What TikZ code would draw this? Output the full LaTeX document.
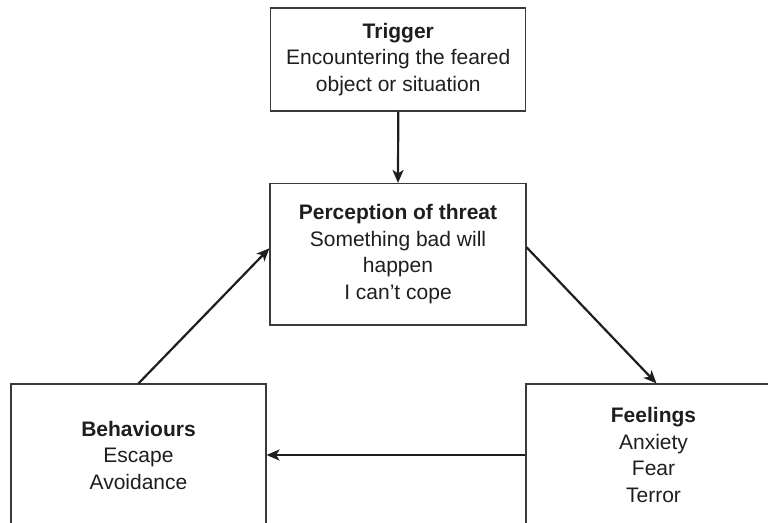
\documentclass[tikz,border=0pt]{standalone}
\usepackage{fontspec}
\setmainfont{Liberation Sans}
\usetikzlibrary{arrows.meta,calc}
\definecolor{ink}{HTML}{1E1E1E}
\definecolor{frame}{HTML}{3A3A3A}
\tikzset{
  box/.style={draw=frame, line width=1.1pt, rectangle, inner sep=0pt,
    minimum width=255pt, align=center, text=ink,
    font=\fontsize{21pt}{26.5pt}\selectfont},
  flow/.style={draw=ink, line width=2.2pt,
    -{Stealth[length=13pt,width=11pt,inset=3.5pt]}}
}
\begin{document}
\begin{tikzpicture}[x=1pt,y=1pt]
  \useasboundingbox (0,0) rectangle (768,-522);
  \clip (0,0) rectangle (768,-522);

  % the four stages of the cycle
  \node[box, minimum height=103pt] (trig) at (398.25,-59.5)
    {\textbf{Trigger}\\Encountering the feared\\object or situation};
  \node[box, minimum width=256pt, minimum height=141.5pt] (perc) at (398,-254.25)
    {\textbf{Perception of threat}\\Something bad will\\happen\\I can’t cope};
  \node[box, minimum height=142pt] (beh) at (138.5,-455)
    {\textbf{Behaviours}\\Escape\\Avoidance};
  \node[box, minimum height=142pt] (feel) at (653.5,-455)
    {\textbf{Feelings}\\Anxiety\\Fear\\Terror};

  % side attachment points on the perception box
  \coordinate (pin)  at ($(perc.west)+(0,6)$);
  \coordinate (pout) at ($(perc.east)+(0,7)$);
  \coordinate (fin)  at ($(feel.north)+(3,0)$);

  % connectors
  \draw[flow] (trig.south) -- (perc.north);
  \draw[flow] (pout) -- (fin);
  \draw[flow] (feel.west) -- (beh.east);
  \draw[flow] (beh.north) -- (pin);
\end{tikzpicture}
\end{document}
